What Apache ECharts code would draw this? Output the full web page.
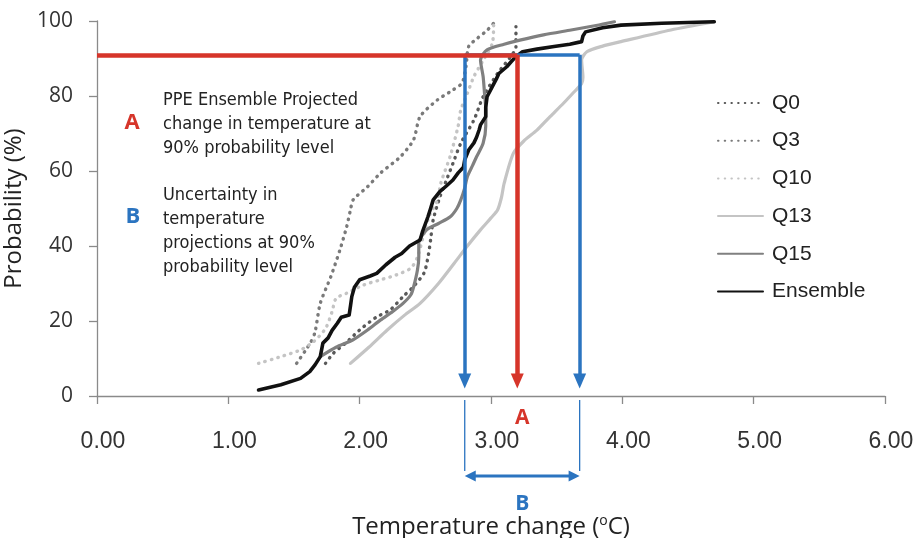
<!DOCTYPE html>
<html>
<head>
<meta charset="utf-8">
<script src="https://cdn.jsdelivr.net/npm/echarts@6/dist/echarts.min.js"></script>
<style>html,body{margin:0;padding:0;background:#fff;}#c{width:916px;height:538px;}</style>
</head>
<body>
<div id="c"></div>
<script>
// ---- data (temperature change °C, cumulative probability %) ----
const seriesNames = ['Q0', 'Q3', 'Q10', 'Q13', 'Q15', 'Ensemble'];
const xTicks = [0, 1, 2, 3, 4, 5, 6];
const yTicks = [0, 20, 40, 60, 80, 100];

const q0 = [[1.74,8.7],[1.80,11.4],[1.89,14],[2.0,17.6],[2.13,21.1],[2.23,22.9],[2.33,26.5],[2.41,29.2],[2.49,32.8],[2.52,37],[2.54,41.6],[2.56,47],[2.61,53],[2.66,57.5],[2.71,62],[2.77,67.4],[2.87,73.6],[2.94,79.8],[3.05,86],[3.15,90.5],[3.19,93],[3.19,96.3],[3.19,98.5]];
const q3 = [[1.52,8.7],[1.59,12.3],[1.63,14.5],[1.66,17],[1.70,24.7],[1.78,31.8],[1.85,39],[1.90,45],[1.93,49.6],[1.95,52.3],[2.06,55.8],[2.16,59.5],[2.31,63.8],[2.41,68.3],[2.46,74.5],[2.59,78.9],[2.71,81.6],[2.78,83.5],[2.81,88],[2.83,93.2],[2.90,95.5],[2.97,97.5],[3.02,99.4]];
const q10 = [[1.23,8.7],[1.40,10.5],[1.55,12.3],[1.65,14.5],[1.74,18],[1.79,22.5],[1.82,26],[1.90,27.4],[2.03,29.6],[2.16,31],[2.28,32.3],[2.39,34.1],[2.44,37],[2.48,42],[2.53,48],[2.59,52],[2.62,57],[2.69,64],[2.75,72],[2.77,76.3],[2.82,80.7],[2.87,85.2],[2.94,89.5],[3.01,94],[3.02,98.9]];
const q13 = [[1.93,8.7],[2.07,13],[2.21,17.6],[2.34,21.5],[2.46,24.7],[2.60,30],[2.72,35.4],[2.82,40],[2.92,44.3],[3.0,47.5],[3.05,49.6],[3.08,53],[3.10,56.7],[3.17,64.7],[3.25,68],[3.35,70.9],[3.45,74.5],[3.55,78],[3.63,81],[3.69,83.3],[3.70,85],[3.69,89.6],[3.73,91.8],[3.85,93.3],[3.99,94.5],[4.37,97.6],[4.70,99.8]];
const q15 = [[1.70,10.5],[1.82,13],[1.95,15],[2.06,17.6],[2.16,20.3],[2.25,22.5],[2.33,24.7],[2.39,27],[2.41,29],[2.44,33.6],[2.45,37],[2.45,40.8],[2.51,44.3],[2.60,46],[2.69,47.8],[2.74,50],[2.77,52.3],[2.80,55.5],[2.82,58.5],[2.86,61.5],[2.89,63.8],[2.94,67.4],[2.96,72],[2.96,76.3],[2.95,81],[2.94,85.2],[2.92,89.6],[2.97,92.3],[3.10,93.8],[3.22,94.9],[3.40,96.3],[3.61,97.6],[3.80,98.8],[3.94,99.8]];
const ensemble = [[1.23,1.6],[1.40,3.0],[1.55,4.7],[1.62,6.5],[1.66,8.3],[1.70,10.5],[1.72,14.1],[1.76,15.5],[1.79,17.5],[1.83,19.4],[1.86,21],[1.92,21.6],[1.93,24],[1.94,26.5],[1.96,29],[2.0,31],[2.08,32],[2.13,32.7],[2.2,35],[2.27,37],[2.32,38],[2.38,40],[2.46,41.6],[2.48,44],[2.52,47.8],[2.54,50],[2.56,52.3],[2.61,54.5],[2.66,56],[2.71,57.6],[2.75,59.5],[2.79,61],[2.80,63],[2.83,65.6],[2.87,67.5],[2.89,69],[2.91,71],[2.92,72.3],[2.96,74.5],[2.96,77],[2.97,79.8],[3.01,82.5],[3.04,84.5],[3.06,86],[3.12,87.8],[3.15,89],[3.19,90.5],[3.24,91.8],[3.35,92.5],[3.48,93.2],[3.6,93.8],[3.69,94.5],[3.70,96],[3.72,97.1],[3.85,98.2],[3.99,98.9],[4.3,99.4],[4.70,99.8]];

// annotation values
const probLevel = 91;        // 90% probability level line
const ensAt90 = 3.20;        // A: ensemble projected change
const uncLow = 2.80;         // B: uncertainty range low
const uncHigh = 3.675;       // B: uncertainty range high
const arrowEnd = 4.0;        // arrow end (probability)

const RED = '#d6352a', BLUE = '#2b74c0';
const dotted = [0.5, 6.2];

const lineDefs = {
  Q0: {data: q0, color: '#595959', width: 3.4, type: dotted},
  Q3: {data: q3, color: '#7a7a7a', width: 3.4, type: dotted},
  Q10: {data: q10, color: '#c4c4c4', width: 3.4, type: dotted},
  Q13: {data: q13, color: '#c4c4c4', width: 3.2, type: 'solid'},
  Q15: {data: q15, color: '#808080', width: 3.2, type: 'solid'},
  Ensemble: {data: ensemble, color: '#111111', width: 3.6, type: 'solid'}
};

const series = seriesNames.map(n => ({
  name: n, type: 'line', data: lineDefs[n].data, symbol: 'none', smooth: n === 'Ensemble' ? false : 0.25,
  lineStyle: {color: lineDefs[n].color, width: lineDefs[n].width, type: lineDefs[n].type, cap: 'round', join: 'round'},
  itemStyle: {color: lineDefs[n].color}, silent: true, animation: false, z: 2
}));

series.push({
  name: 'annot', type: 'line', data: [], silent: true, animation: false, z: 5,
  markLine: {
    silent: true, animation: false, label: {show: false}, symbolSize: [13, 15],
    data: [
      [{coord: [uncLow, probLevel], symbol: 'none', lineStyle: {color: BLUE, width: 3.5, type: 'solid'}}, {coord: [uncHigh, probLevel], symbol: 'none'}],
      [{coord: [uncLow, probLevel], symbol: 'none', lineStyle: {color: BLUE, width: 3.5, type: 'solid'}, itemStyle: {color: BLUE}}, {coord: [uncLow, arrowEnd], symbol: 'triangle'}],
      [{coord: [uncHigh, probLevel], symbol: 'none', lineStyle: {color: BLUE, width: 3.5, type: 'solid'}, itemStyle: {color: BLUE}}, {coord: [uncHigh, arrowEnd], symbol: 'triangle'}],
      [{coord: [0, probLevel], symbol: 'none', lineStyle: {color: RED, width: 4.5, type: 'solid'}}, {coord: [ensAt90, probLevel], symbol: 'none'}],
      [{coord: [ensAt90, probLevel], symbol: 'none', lineStyle: {color: RED, width: 4.5, type: 'solid'}, itemStyle: {color: RED}}, {coord: [ensAt90, arrowEnd], symbol: 'triangle'}]
    ]
  }
});

const axisColor = '#8a8a8a';
const option = {
  backgroundColor: '#ffffff',
  animation: false,
  grid: {left: 97, right: 31, top: 21, bottom: 142, containLabel: false, outerBoundsMode: 'none'},
  legend: {
    data: seriesNames, orient: 'vertical', left: 717, top: 91, padding: 0,
    itemWidth: 45, itemHeight: 14, itemGap: 13.7, selectedMode: false,
    itemStyle: {opacity: 0},
    textStyle: {fontFamily: "'Liberation Sans'", fontSize: 21, color: '#222', lineHeight: 24, padding: [0, 0, 0, 4]}
  },
  xAxis: {
    type: 'value', min: 0, max: 6, interval: 1,
    name: 'Temperature change ({s|o}C)', nameLocation: 'middle', nameGap: 118,
    nameTextStyle: {fontFamily: "'Open Sans'", fontSize: 24, color: '#222', rich: {s: {fontFamily: "'Open Sans'", fontSize: 14, color: '#222', padding: [0, 0, 12, 0]}}},
    axisLine: {lineStyle: {color: axisColor, width: 1.3}},
    axisTick: {show: true, inside: false, length: 8, lineStyle: {color: axisColor, width: 1.3}},
    splitLine: {show: false},
    axisLabel: {margin: 34, padding: [0, 0, 0, 12], fontFamily: "'Liberation Sans'", fontSize: 23, color: '#333',
      formatter: v => xTicks.includes(v) ? v.toFixed(2) : ''}
  },
  yAxis: {
    type: 'value', min: 0, max: 100, interval: 20,
    name: 'Probability (%)', nameLocation: 'middle', nameGap: 55, nameRotate: 90,
    nameTextStyle: {fontFamily: "'Open Sans'", fontSize: 24, color: '#222'},
    axisLine: {show: true, lineStyle: {color: axisColor, width: 1.3}},
    axisTick: {show: true, inside: false, length: 8, lineStyle: {color: axisColor, width: 1.3}},
    splitLine: {show: false},
    axisLabel: {margin: 24, fontFamily: "'Open Sans'", fontSize: 21, color: '#333',
      formatter: v => yTicks.includes(v) ? String(v) : ''}
  },
  series: series
};

const chart = echarts.init(document.getElementById('c'), null, {renderer: 'canvas'});
chart.setOption(option);

const px = (x, y) => chart.convertToPixel({gridIndex: 0}, [x, y]);
const [xL, y0] = px(uncLow, 0);
const [xR] = px(uncHigh, 0);
const [xA] = px(ensAt90, 0);
const arrowY = y0 + 80;
const noteFont = "'DejaVu Sans Condensed', 'DejaVu Sans'";
chart.setOption({
  graphic: [
    {type: 'line', silent: true, shape: {x1: xL, y1: y0 + 4, x2: xL, y2: y0 + 75}, style: {stroke: BLUE, lineWidth: 1.3}},
    {type: 'line', silent: true, shape: {x1: xR, y1: y0 + 4, x2: xR, y2: y0 + 75}, style: {stroke: BLUE, lineWidth: 1.3}},
    {type: 'line', silent: true, shape: {x1: xL + 6, y1: arrowY, x2: xR - 6, y2: arrowY}, style: {stroke: BLUE, lineWidth: 3}},
    {type: 'polygon', silent: true, shape: {points: [[xL, arrowY], [xL + 11, arrowY - 5.5], [xL + 11, arrowY + 5.5]]}, style: {fill: BLUE}},
    {type: 'polygon', silent: true, shape: {points: [[xR, arrowY], [xR - 11, arrowY - 5.5], [xR - 11, arrowY + 5.5]]}, style: {fill: BLUE}},
    {type: 'text', silent: true, x: xA + 5, y: y0 + 22, style: {text: 'A', fill: RED, font: "bold 21px 'Open Sans'", align: 'center', verticalAlign: 'middle'}},
    {type: 'text', silent: true, x: (xL + xR) / 2, y: y0 + 108, style: {text: 'B', fill: BLUE, font: "bold 21px 'Open Sans'", align: 'center', verticalAlign: 'middle'}},
    {type: 'text', silent: true, x: 132, y: 123, style: {text: 'A', fill: RED, font: "bold 22px 'Open Sans'", align: 'center', verticalAlign: 'middle'}},
    {type: 'text', silent: true, x: 133, y: 217, style: {text: 'B', fill: BLUE, font: "bold 22px 'Open Sans'", align: 'center', verticalAlign: 'middle'}},
    {type: 'text', silent: true, x: 163, y: 88, style: {text: 'PPE Ensemble Projected\nchange in temperature at\n90% probability level', fill: '#222', font: "18px " + noteFont, lineHeight: 24}},
    {type: 'text', silent: true, x: 163, y: 183, style: {text: 'Uncertainty in\ntemperature\nprojections at 90%\nprobability level', fill: '#222', font: "18px " + noteFont, lineHeight: 24}}
  ]
});
</script>
</body>
</html>
